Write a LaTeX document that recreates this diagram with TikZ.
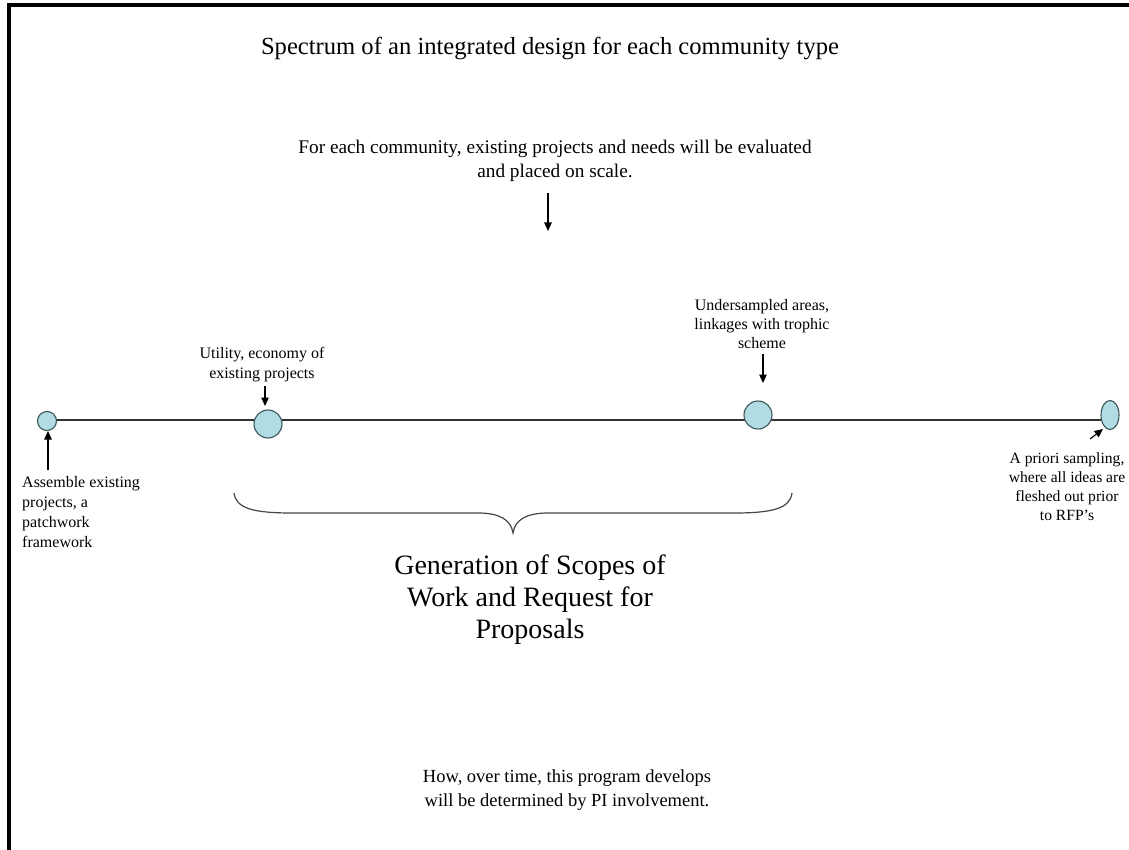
\documentclass[tikz,border=0pt]{standalone}
\usepackage{fontspec}
\setmainfont{Liberation Serif}
\usetikzlibrary{arrows.meta,shapes.geometric}
\definecolor{dotfill}{RGB}{178,220,228}
\definecolor{dotline}{RGB}{60,85,88}
\definecolor{scaleline}{RGB}{50,50,50}
\definecolor{bracecol}{RGB}{70,70,70}
\tikzset{
  dot/.style={circle,draw=dotline,fill=dotfill,line width=1.1pt,inner sep=0pt},
  edot/.style={ellipse,draw=dotline,fill=dotfill,line width=1.1pt,inner sep=0pt,minimum width=18pt,minimum height=29pt},
  lbl/.style={inner sep=0pt,align=center,font=\fontsize{16}{20}\selectfont},
  arr/.style={-{Triangle[length=8.5pt,width=7.5pt]},line width=1.1pt,black},
}
\begin{document}
\begin{tikzpicture}[x=1pt,y=-1pt]
\useasboundingbox (0,0) rectangle (1129,850);
\fill[white] (0,0) rectangle (1129,850);
% frame (left and top)
\draw[line width=4.2pt,black] (9,850) -- (9,4.7) -- (1129,4.7);

% title and top note
\node[inner sep=0pt,font=\fontsize{24.6}{28}\selectfont] (title) at (550,48) {Spectrum of an integrated design for each community type};
\node[inner sep=0pt,align=center,font=\fontsize{19.3}{24}\selectfont] (note) at (555,161) {For each community, existing projects and needs will be evaluated\\and placed on scale.};
\coordinate (noteA) at (548,193);
\coordinate (noteB) at (548,231);
\draw[arr] (noteA) -- (noteB);

% scale
\coordinate (p1) at (47,421);
\coordinate (p2) at (268,424);
\coordinate (p3) at (758,415);
\coordinate (p4) at (1110,415);
\coordinate (l1) at (47,420);
\coordinate (l4) at (1110,420);
\draw[scaleline,line width=1.3pt] (l1) -- (l4);
\node[dot,minimum size=19pt] (c1) at (p1) {};
\node[dot,minimum size=28pt] (c2) at (p2) {};
\node[dot,minimum size=28pt] (c3) at (p3) {};
\node[edot] (c4) at (p4) {};

% labels
\node[lbl] (util) at (262,365) {Utility, economy of\\existing projects};
\coordinate (utilA) at (265,386);
\coordinate (utilB) at (265,406);
\draw[arr] (utilA) -- (utilB);

\node[lbl,font=\fontsize{16}{19}\selectfont] (under) at (762,324) {Undersampled areas,\\linkages with trophic\\scheme};
\coordinate (underA) at (763,354);
\coordinate (underB) at (763,383);
\draw[arr] (underA) -- (underB);

\node[lbl,align=left,anchor=west] (assem) at (22,512) {Assemble existing\\projects, a\\patchwork\\framework};
\coordinate (assemA) at (48,470);
\coordinate (assemB) at (48,431);
\draw[arr] (assemA) -- (assemB);

\node[lbl,font=\fontsize{15.6}{19}\selectfont] (apriori) at (1067,487) {A priori sampling,\\where all ideas are\\fleshed out prior\\to RFP's};
\coordinate (aprA) at (1090,439);
\coordinate (aprB) at (1103,429);
\draw[arr] (aprA) -- (aprB);

% brace
\coordinate (brL) at (234,493);
\coordinate (brR) at (792,493);
\coordinate (brT) at (513,533);
\draw[bracecol,line width=1.2pt] (brL) .. controls (236,508) and (252,513) .. (292,513) -- (478,513) .. controls (500,513) and (511,520) .. (brT) .. controls (515,520) and (526,513) .. (548,513) -- (734,513) .. controls (774,513) and (790,508) .. (brR);

\node[inner sep=0pt,align=center,font=\fontsize{28}{32}\selectfont] (gen) at (530,600) {Generation of Scopes of\\Work and Request for\\Proposals};

\node[inner sep=0pt,align=center,font=\fontsize{18.5}{24}\selectfont] (how) at (567,790) {How, over time, this program develops\\will be determined by PI involvement.};
\end{tikzpicture}
\end{document}
